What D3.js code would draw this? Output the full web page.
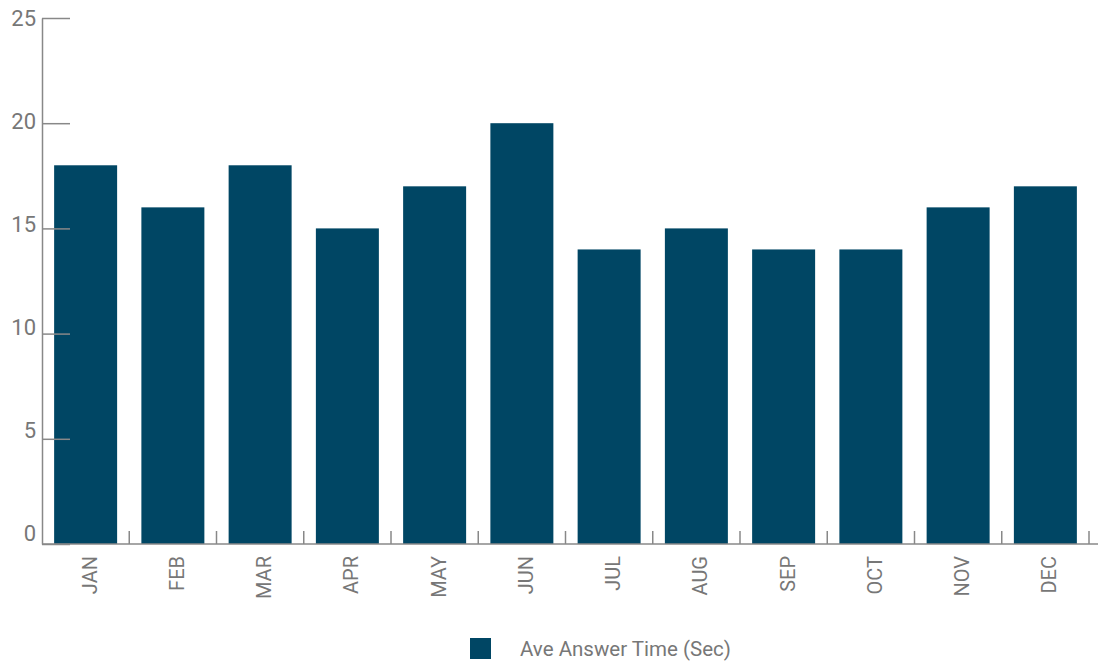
<!DOCTYPE html>
<html>
<head>
<meta charset="utf-8">
<script src="https://cdn.jsdelivr.net/npm/d3@7"></script>
<style>
  html, body { margin: 0; padding: 0; background: #fff; }
  svg { display: block; }
  text { font-family: Roboto, "Open Sans", sans-serif; fill: #777; }
</style>
</head>
<body>
<svg id="chart" width="1098" height="666"></svg>
<script>
// Monthly average answer time, in seconds
const months = ["JAN", "FEB", "MAR", "APR", "MAY", "JUN", "JUL", "AUG", "SEP", "OCT", "NOV", "DEC"];
const answerTime = [18, 16, 18, 15, 17, 20, 14, 15, 14, 14, 16, 17];
const yTicks = [0, 5, 10, 15, 20, 25];
const seriesName = "Ave Answer Time (Sec)";

const barColor = "#004664";
const axisColor = "#888";

const svg = d3.select("#chart");

const x = d3.scaleBand()
  .domain(months)
  .range([42, 1089])
  .paddingInner(0.278)
  .paddingOuter(0.139);

const y = d3.scaleLinear()
  .domain([0, 25])
  .range([544, 18]);

// Tick labels sit on a slightly compressed scale, centred on the ticks
const yLabel = d3.scaleLinear()
  .domain([0, 25])
  .range([533, 18]);

// Bars
svg.append("g")
  .selectAll("rect")
  .data(months.map((m, i) => ({ m, v: answerTime[i] })))
  .join("rect")
  .attr("x", d => x(d.m))
  .attr("y", d => y(d.v))
  .attr("width", x.bandwidth())
  .attr("height", d => y(0) - y(d.v))
  .attr("fill", barColor);

// Y axis: ticks point inward into the plot
const yAxis = svg.append("g").attr("transform", "translate(42,0)")
  .call(d3.axisRight(y).tickValues(yTicks).tickSize(28).tickSizeOuter(0).tickFormat(""));
yAxis.select(".domain").attr("stroke", axisColor).attr("stroke-width", 1.5);
yAxis.selectAll(".tick line").attr("stroke", axisColor).attr("stroke-width", 1.5);

svg.append("g")
  .selectAll("text")
  .data(yTicks)
  .join("text")
  .attr("x", 36)
  .attr("y", d => yLabel(d) + 8)
  .attr("text-anchor", "end")
  .style("font-size", "22px")
  .text(d => d);

// X axis: baseline with short upward ticks at band boundaries
const boundaries = months.map(m => x(m) - x.step() * x.paddingInner() / 2 + x.step());
svg.append("line")
  .attr("x1", 42).attr("x2", 1098)
  .attr("y1", y(0)).attr("y2", y(0))
  .attr("stroke", axisColor).attr("stroke-width", 1.5);
svg.append("g")
  .selectAll("line")
  .data(boundaries)
  .join("line")
  .attr("x1", d => d).attr("x2", d => d)
  .attr("y1", y(0)).attr("y2", y(0) - 13)
  .attr("stroke", axisColor).attr("stroke-width", 1.5);

// Month labels, rotated
svg.append("g")
  .selectAll("text")
  .data(months)
  .join("text")
  .attr("transform", m => `translate(${x(m) + x.bandwidth() / 2 + 11},556) rotate(-90)`)
  .attr("text-anchor", "end")
  .style("font-size", "20px")
  .text(m => m);

// Legend
svg.append("rect")
  .attr("x", 470).attr("y", 638)
  .attr("width", 21).attr("height", 21)
  .attr("fill", barColor);
svg.append("text")
  .attr("x", 520).attr("y", 656)
  .style("font-size", "20.5px")
  .text(seriesName);
</script>
</body>
</html>
